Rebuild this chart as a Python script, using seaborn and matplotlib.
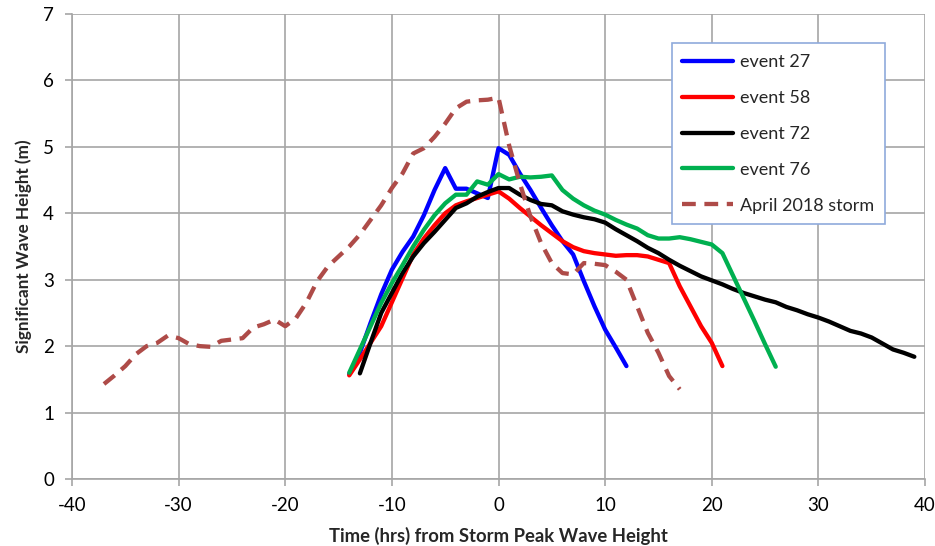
import matplotlib
matplotlib.use("Agg")
import matplotlib.pyplot as plt
import seaborn as sns
import pandas as pd
import numpy as np

# ---- data ----
hours_27 = list(range(-14, 13))
wave_27 = [1.58, 1.90, 2.35, 2.78, 3.15, 3.42, 3.65, 3.97, 4.35, 4.68, 4.37, 4.37, 4.30, 4.23,
           4.98, 4.88, 4.60, 4.35, 4.08, 3.82, 3.58, 3.38, 2.98, 2.60, 2.25, 1.98, 1.70]

hours_58 = list(range(-14, 22))
wave_58 = [1.56, 1.80, 2.05, 2.30, 2.66, 3.02, 3.38, 3.62, 3.82, 4.00, 4.12, 4.18, 4.23, 4.28,
           4.33, 4.22, 4.08, 3.95, 3.82, 3.70, 3.58, 3.49, 3.43, 3.40, 3.38, 3.36, 3.37, 3.37,
           3.35, 3.30, 3.25, 2.90, 2.60, 2.30, 2.05, 1.70]

hours_72 = list(range(-13, 40))
wave_72 = [1.59, 2.05, 2.50, 2.80, 3.10, 3.35, 3.55, 3.72, 3.90, 4.08, 4.15, 4.25, 4.32, 4.38,
           4.38, 4.28, 4.20, 4.14, 4.12, 4.03, 3.98, 3.94, 3.91, 3.86, 3.76, 3.67, 3.58, 3.48,
           3.40, 3.30, 3.21, 3.13, 3.05, 2.99, 2.93, 2.86, 2.80, 2.75, 2.70, 2.66, 2.59, 2.54,
           2.48, 2.43, 2.37, 2.30, 2.23, 2.19, 2.13, 2.04, 1.95, 1.90, 1.84]

hours_76 = list(range(-14, 27))
wave_76 = [1.60, 1.95, 2.30, 2.65, 2.95, 3.22, 3.50, 3.75, 3.97, 4.15, 4.28, 4.28, 4.48, 4.43,
           4.59, 4.51, 4.55, 4.54, 4.55, 4.57, 4.35, 4.22, 4.12, 4.04, 3.98, 3.90, 3.83, 3.77,
           3.67, 3.62, 3.62, 3.64, 3.61, 3.57, 3.53, 3.40, 3.06, 2.72, 2.38, 2.03, 1.69]

hours_storm = list(range(-37, 18))
wave_storm = [1.43, 1.56, 1.70, 1.88, 2.00, 2.05, 2.16, 2.12, 2.03, 2.00, 1.99, 2.08, 2.10, 2.12,
              2.28, 2.33, 2.40, 2.30, 2.42, 2.66, 2.98, 3.20, 3.35, 3.50, 3.68, 3.90, 4.12, 4.38,
              4.60, 4.90, 4.98, 5.15, 5.35, 5.58, 5.68, 5.70, 5.71, 5.74, 5.02, 4.45, 3.95, 3.55,
              3.25, 3.10, 3.08, 3.25, 3.24, 3.22, 3.12, 3.00, 2.60, 2.20, 1.90, 1.55, 1.35]

labels = ["event 27", "event 58", "event 72", "event 76", "April 2018 storm"]
x_ticks = list(range(-40, 41, 10))
y_ticks = list(range(0, 8))

series = [(hours_27, wave_27), (hours_58, wave_58), (hours_72, wave_72),
          (hours_76, wave_76), (hours_storm, wave_storm)]
frames = []
for lab, (h, w) in zip(labels, series):
    frames.append(pd.DataFrame({"hours": h, "wave": w, "series": lab}))
df = pd.concat(frames, ignore_index=True)

# ---- style ----
sns.set_theme(style="white")
plt.rcParams['font.family'] = ['Lato', 'DejaVu Sans']
plt.rcParams['axes.unicode_minus'] = False

colors = {"event 27": "#0000FF", "event 58": "#FF0000", "event 72": "#000000",
          "event 76": "#00B050", "April 2018 storm": "#AE4B48"}
dashes = {"event 27": "", "event 58": "", "event 72": "", "event 76": "",
          "April 2018 storm": (3.2, 2.0)}

fig = plt.figure(figsize=(9.35, 5.46), dpi=100)
ax = fig.add_axes([72/935, 1 - 479/546, 853/935, 465/546])

sns.lineplot(data=df, x="hours", y="wave", hue="series", style="series",
             hue_order=labels, style_order=labels, palette=colors, dashes=dashes,
             linewidth=3.1, ax=ax, sort=False, estimator=None)

ax.set_xlim(-40, 40)
ax.set_ylim(0, 7)
ax.set_xticks(x_ticks)
ax.set_yticks(y_ticks)
ax.grid(True, color="#A6A6A6", linewidth=1.2)
ax.set_axisbelow(True)
for s in ["top", "right"]:
    ax.spines[s].set_visible(False)
for s in ["left", "bottom"]:
    ax.spines[s].set_color("#A6A6A6")
    ax.spines[s].set_linewidth(1.2)
ax.tick_params(axis="both", which="both", length=5, width=1.2, color="#A6A6A6",
               labelsize=13.5, labelcolor="#000000", direction="out")
ax.tick_params(axis="x", pad=8)
ax.tick_params(axis="y", pad=8)
ax.tick_params(bottom=True, left=True)

ax.set_xlabel("Time (hrs) from Storm Peak Wave Height", fontsize=13.3, fontweight="bold",
              labelpad=9)
ax.set_ylabel("Significant Wave Height (m)", fontsize=12.3, fontweight="bold", labelpad=8)

leg = ax.legend(loc="upper left", bbox_to_anchor=(0.703, 0.937), fontsize=13,
                frameon=True, fancybox=False, framealpha=1, edgecolor="#8FAADC",
                handlelength=2.8, handletextpad=0.4, labelspacing=1.1,
                borderpad=0.6, borderaxespad=0)
leg.get_frame().set_linewidth(1.2)

fig.savefig("out.png", dpi=100)
